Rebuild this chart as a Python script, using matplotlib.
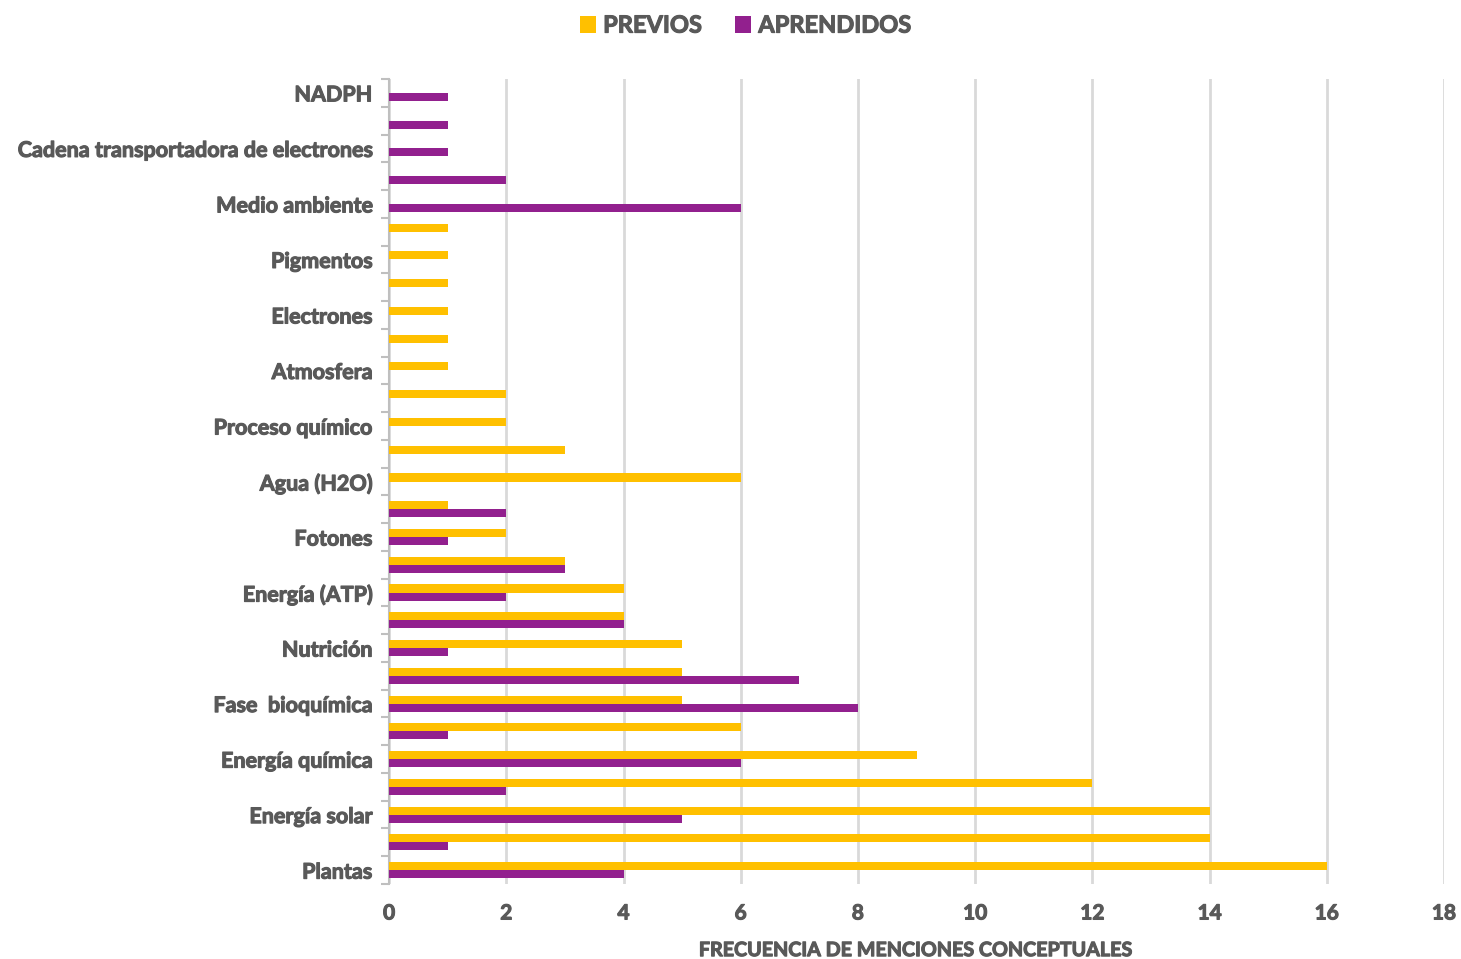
import numpy as np
import matplotlib.pyplot as plt
import matplotlib.patheffects as pe

# categorías de abajo hacia arriba (solo se rotula una de cada dos)
categorias = ['Plantas', '', 'Energía solar', '', 'Energía química', '',
              'Fase  bioquímica', '', 'Nutrición', '', 'Energía (ATP)', '',
              'Fotones', '', 'Agua (H2O)', '', 'Proceso químico', '',
              'Atmosfera', '', 'Electrones', '', 'Pigmentos', '',
              'Medio ambiente', '', 'Cadena transportadora de electrones', '',
              'NADPH']
previos = [16, 14, 14, 12, 9, 6, 5, 5, 5, 4, 4, 3, 2, 1, 6, 3, 2, 2,
           1, 1, 1, 1, 1, 1, 0, 0, 0, 0, 0]
aprendidos = [4, 1, 5, 2, 6, 1, 8, 7, 1, 4, 2, 3, 1, 2, 0, 0, 0, 0,
              0, 0, 0, 0, 0, 0, 6, 2, 1, 1, 1]

amarillo = '#FFC000'
morado = '#92208E'
gris = '#595959'

plt.rcParams['font.family'] = ['Lato', 'DejaVu Sans']
plt.rcParams['font.weight'] = 'bold'
plt.rcParams['axes.labelweight'] = 'bold'

# trazo fino para engrosar un poco el texto
grueso = [pe.withStroke(linewidth=0.8, foreground=gris)]

fig = plt.figure(figsize=(14.61, 9.59), dpi=100)
ax = fig.add_axes([0.2663, 0.0782, 0.7221, 0.8394])

y = np.arange(len(categorias))
h = 0.29
ax.barh(y + h / 2, previos, height=h, color=amarillo, label='PREVIOS', zorder=3)
ax.barh(y - h / 2, aprendidos, height=h, color=morado, label='APRENDIDOS', zorder=3)

ax.set_xlim(0, 18)
ax.set_ylim(-0.5, len(categorias) - 0.5)
ax.set_xticks(range(0, 19, 2))

# etiquetas centradas en la categoría, marcas en los límites
ax.set_yticks(y)
ax.set_yticklabels(categorias, fontweight='bold')
ax.tick_params(axis='y', which='major', length=0, pad=12, labelsize=15.5, labelcolor=gris)
ax.set_yticks(np.arange(-0.5, len(categorias), 1), minor=True)
ax.tick_params(axis='y', which='minor', length=6, width=1.5, color='#BFBFBF')
ax.tick_params(axis='x', length=0, pad=14, labelsize=15, labelcolor=gris)
for t in ax.get_xticklabels() + ax.get_yticklabels():
    t.set_fontweight('bold')
    t.set_path_effects(grueso)

ax.grid(axis='x', color='#D9D9D9', linewidth=2, zorder=0)
for lado in ['top', 'right', 'bottom']:
    ax.spines[lado].set_visible(False)
ax.spines['left'].set_color('#BFBFBF')
ax.spines['left'].set_linewidth(1.5)

ax.set_xlabel('FRECUENCIA DE MENCIONES CONCEPTUALES', fontsize=14.2, color=gris,
              fontweight='bold', labelpad=12, path_effects=grueso)

leg = fig.legend(loc='upper center', bbox_to_anchor=(0.51, 1.008), ncol=2, frameon=False,
                 prop={'size': 17, 'weight': 'bold'}, handlelength=0.7, handleheight=0.7,
                 handletextpad=0.3, columnspacing=1.4, labelcolor=gris)
for t in leg.get_texts():
    t.set_path_effects(grueso)

plt.savefig('out.png', dpi=100)
